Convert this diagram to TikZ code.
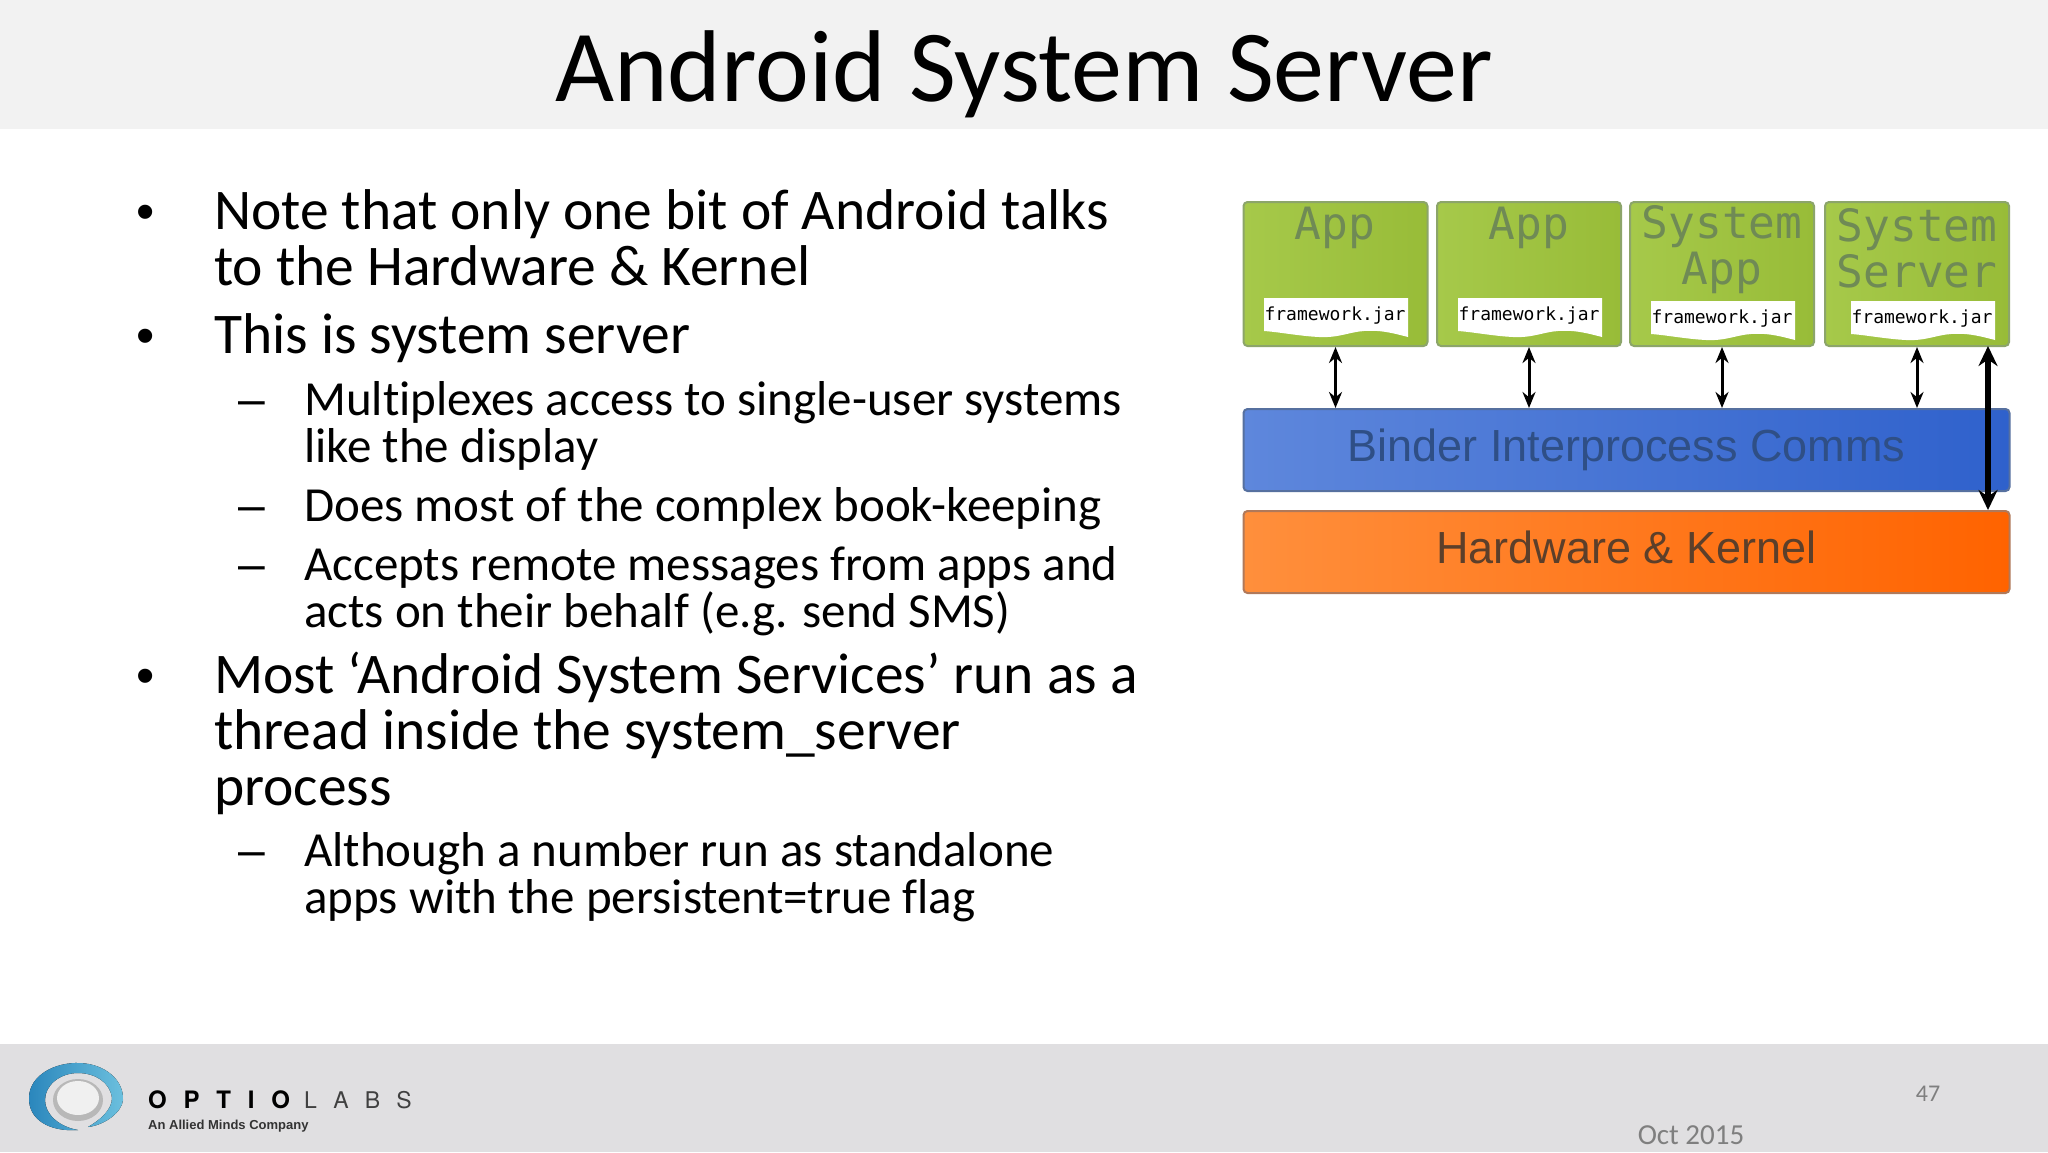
\documentclass[tikz,border=0pt]{standalone}
\usepackage{fontspec}
\setmainfont{Carlito}[Ligatures=NoCommon]
\newfontfamily\monof{DejaVu Sans Mono}
\newfontfamily\liberf{Liberation Sans}
\newfontfamily\logof[LetterSpace=70]{TeX Gyre Heros}
\usetikzlibrary{arrows.meta}
\definecolor{bandtop}{HTML}{F2F2F2}
\definecolor{bandbot}{HTML}{E0DFE1}
\definecolor{greenL}{HTML}{A6C94A}
\definecolor{greenR}{HTML}{98BC38}
\definecolor{greenT}{HTML}{6F8A55}
\definecolor{greenB}{HTML}{8CA56A}
\definecolor{blueL}{HTML}{5E87DC}
\definecolor{blueR}{HTML}{2F61CC}
\definecolor{blueT}{HTML}{2F4F86}
\definecolor{blueB}{HTML}{56709F}
\definecolor{orL}{HTML}{FF8F3C}
\definecolor{orR}{HTML}{FF6300}
\definecolor{orT}{HTML}{5C3F2A}
\definecolor{orB}{HTML}{B0795A}
\definecolor{footT}{HTML}{7F7F7F}
\definecolor{swirlL}{HTML}{2A86BC}
\definecolor{swirlR}{HTML}{6CC0DE}
\tikzset{
  lvlone/.style={anchor=base west,inner sep=0pt,font=\fontsize{57.5}{60}\selectfont,text=black},
  lvltwo/.style={anchor=base west,inner sep=0pt,font=\fontsize{49}{52}\selectfont,text=black},
  bulletmark/.style={anchor=base west,inner sep=0pt,font=\liberf\fontsize{52}{54}\selectfont,text=black},
  dashmark/.style={anchor=base west,inner sep=0pt,font=\liberf\fontsize{48}{50}\selectfont,text=black},
  appbox/.style={draw=greenB,line width=2pt,rounded corners=4pt,left color=greenL,right color=greenR,minimum width=184,minimum height=144,inner sep=0pt},
  apptext/.style={align=center,inner sep=0pt,text=greenT,font=\monof\fontsize{44.5}{45}\selectfont},
  fwtext/.style={inner sep=0pt,text=black,font=\monof\fontsize{18}{20}\selectfont},
  wide/.style={rounded corners=4pt,line width=2pt,minimum width=766,minimum height=82,inner sep=0pt,font=\liberf\fontsize{45}{50}\selectfont},
  thinarrow/.style={{Stealth[length=16,width=13]}-{Stealth[length=16,width=13]},line width=3pt,black},
  thickarrow/.style={{Stealth[length=20,width=19]}-{Stealth[length=20,width=19]},line width=5.5pt,black},
}
\newcommand{\fwdoc}[2]{\fill[white,shift={(#1,#2)}] (0,0) -- (144,0) -- (144,39) .. controls (125,34) and (115,32) .. (100,33) .. controls (85,34) and (75,40) .. (55,39) .. controls (35,38) and (15,34) .. (0,33) -- cycle;}
\begin{document}
\begin{tikzpicture}[x=1pt,y=-1pt]
\useasboundingbox (0,0) rectangle (2048,1152);
\fill[white] (0,0) rectangle (2048,1152);
\fill[bandtop] (0,0) rectangle (2048,129);
\fill[bandbot] (0,1044) rectangle (2048,1152);
\node[inner sep=0pt,anchor=base,font=\fontsize{102}{110}\selectfont] (title) at (1024,101) {Android System Server};

% body text
\node[bulletmark] (b1) at (136,229) {•};
\node[lvlone] (t1) at (214,229) {Note that only one bit of Android talks};
\node[lvlone] (t1b) at (214,285) {to the Hardware \& Kernel};
\node[bulletmark] (b2) at (136,353) {•};
\node[lvlone] (t2) at (214,353) {This is system server};
\node[dashmark] (d1) at (238,415) {–};
\node[lvltwo] (s1) at (304,415) {Multiplexes access to single-user systems};
\node[lvltwo] (s1b) at (304,462) {like the display};
\node[dashmark] (d2) at (238,521) {–};
\node[lvltwo] (s2) at (304,521) {Does most of the complex book-keeping};
\node[dashmark] (d3) at (238,580) {–};
\node[lvltwo] (s3) at (304,580) {Accepts remote messages from apps and};
\node[lvltwo] (s3b) at (304,627) {acts on their behalf (e.g. send SMS)};
\node[bulletmark] (b3) at (136,693) {•};
\node[lvlone] (t3) at (214,693) {Most ‘Android System Services’ run as a};
\node[lvlone] (t3b) at (214,749) {thread inside the system\_server};
\node[lvlone] (t3c) at (214,805) {process};
\node[dashmark] (d4) at (238,866) {–};
\node[lvltwo] (s4) at (304,866) {Although a number run as standalone};
\node[lvltwo] (s4b) at (304,913) {apps with the persistent=true flag};

% diagram
\node[appbox] (a1) at (1335.5,274) {};
\node[appbox] (a2) at (1529,274) {};
\node[appbox] (a3) at (1722,274) {};
\node[appbox] (a4) at (1917,274) {};
\node[wide,draw=blueB,left color=blueL,right color=blueR,text=blueT] (binder) at (1626.5,450) {\raisebox{4pt}{Binder Interprocess Comms}};
\node[wide,draw=orB,left color=orL,right color=orR,text=orT] (hw) at (1626.5,552) {\raisebox{9pt}{Hardware \& Kernel}};
\node[apptext] (l1) at (1335,228) {App};
\node[apptext] (l2) at (1529,228) {App};
\node[apptext] (l3) at (1722,250) {System\\[1pt]App};
\node[apptext] (l4) at (1917,248) {System\\[1pt]Server};
\fwdoc{1264}{298}
\fwdoc{1458}{298}
\fwdoc{1651}{301}
\fwdoc{1851}{301}
\node[fwtext] (f1) at (1335,316) {framework.jar};
\node[fwtext] (f2) at (1529,316) {framework.jar};
\node[fwtext] (f3) at (1722,319) {framework.jar};
\node[fwtext] (f4) at (1922,319) {framework.jar};
\draw[thinarrow] (a1.south) -- (a1.south |- binder.north);
\draw[thinarrow] (a2.south) -- (a2.south |- binder.north);
\draw[thinarrow] (a3.south) -- (a3.south |- binder.north);
\draw[thinarrow] (a4.south) -- (a4.south |- binder.north);
\coordinate (tk) at (1988,346);
\draw[thickarrow] (tk) -- (tk |- hw.north);

% logo
\fill[black!28!white] (78,1100) ellipse (25 and 21);
\fill[black!6!white] (78,1098) ellipse (21 and 17);
\fill[left color=swirlL,right color=swirlR] (78,1130)
  .. controls (50,1132) and (28,1120) .. (29,1097)
  .. controls (30,1075) and (55,1062) .. (80,1063)
  .. controls (105,1064) and (124,1080) .. (123,1100)
  .. controls (122,1112) and (105,1125) .. (88,1127)
  .. controls (100,1120) and (112,1110) .. (112,1098)
  .. controls (110,1082) and (95,1073) .. (78,1073)
  .. controls (60,1073) and (45,1085) .. (45,1100)
  .. controls (45,1115) and (60,1127) .. (78,1130) -- cycle;
\node[inner sep=0pt,anchor=base west,font=\logof\bfseries\fontsize{24}{24}\selectfont] (lg1) at (148,1108) {OPTIO};
\node[inner sep=0pt,anchor=base west,font=\logof\fontsize{23}{24}\selectfont,text=black!75] (lg2) at (304,1108) {LABS};
\node[inner sep=0pt,anchor=base west,font=\liberf\bfseries\fontsize{13}{14}\selectfont,text=black!80] (lg3) at (148,1129) {An Allied Minds Company};

% footer
\node[inner sep=0pt,anchor=base,font=\fontsize{24}{26}\selectfont,text=footT] (num) at (1928,1101) {47};
\node[inner sep=0pt,anchor=base,font=\fontsize{29}{31}\selectfont,text=footT] (dt) at (1691,1144) {Oct 2015};
\end{tikzpicture}
\end{document}
